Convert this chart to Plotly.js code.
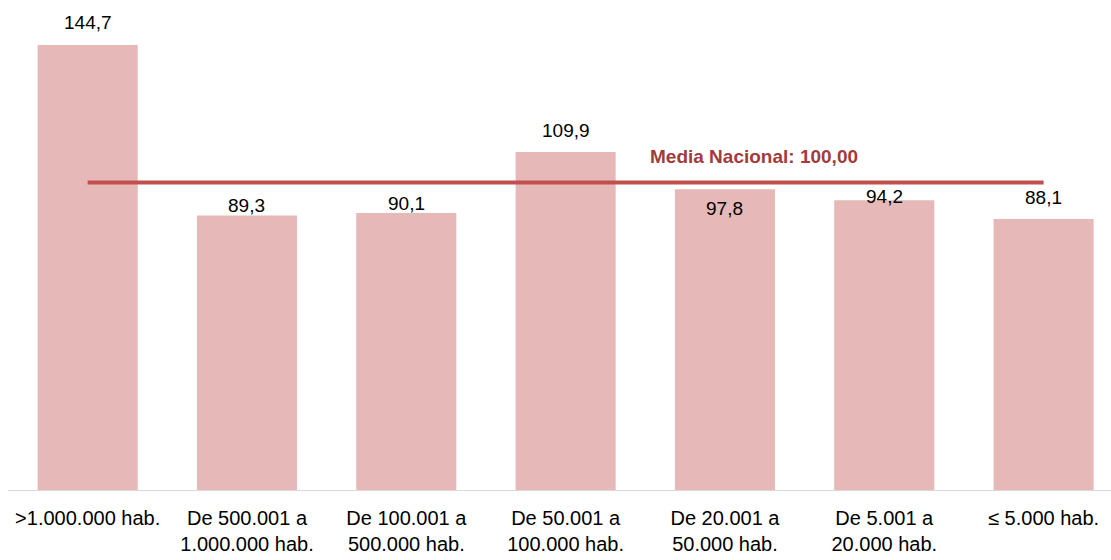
<!DOCTYPE html>
<html>
<head>
<meta charset="utf-8">
<script src="https://cdn.plot.ly/plotly-3.0.1.min.js"></script>
<style>html,body{margin:0;padding:0;background:#fff;}#chart{width:1111px;height:560px;}</style>
</head>
<body>
<div id="chart"></div>
<script>
const categories = [">1.000.000 hab.", "De 500.001 a<br>1.000.000 hab.", "De 100.001 a<br>500.000 hab.", "De 50.001 a<br>100.000 hab.", "De 20.001 a<br>50.000 hab.", "De 5.001 a<br>20.000 hab.", "\u2264 5.000 hab."];
const values = [144.7, 89.3, 90.1, 109.9, 97.8, 94.2, 88.1];
const nationalMean = 100.00;
const meanLabel = "Media Nacional: 100,00";

// label vertical offsets (px, styling only)
const labelShift = [23, 10, 9, 22, -19, 4, 22];

const FONT = '"Liberation Sans Narrow", "Arial Narrow", "Liberation Sans", Arial, sans-serif';

const fmt = v => v.toFixed(1).replace('.', ',');

const bars = {
  type: 'bar', x: categories, y: values,
  marker: {color: '#E6B8B7'}, width: 0.628, hoverinfo: 'skip'
};
const meanLine = {
  type: 'scatter', mode: 'lines',
  x: [categories[0], categories[categories.length - 1]],
  y: [nationalMean, nationalMean],
  line: {color: '#C0504D', width: 4}, hoverinfo: 'skip'
};

const annotations = values.map((v, i) => ({
  x: categories[i], y: v, xref: 'x', yref: 'y', text: fmt(v),
  showarrow: false, yanchor: 'middle', yshift: labelShift[i],
  font: {family: FONT, size: 19, color: '#000'}
}));
annotations.push({
  x: 4.18, y: nationalMean, xref: 'x', yref: 'y', text: '<b>' + meanLabel + '</b>',
  showarrow: false, yanchor: 'middle', yshift: 26,
  font: {family: FONT, size: 19, color: '#A33B3B'}
});

const layout = {
  width: 1111, height: 560,
  margin: {l: 8, r: 0, t: 10, b: 70},
  showlegend: false,
  paper_bgcolor: '#fff', plot_bgcolor: '#fff',
  font: {family: FONT, size: 20, color: '#000'},
  xaxis: {
    type: 'category', range: [-0.5, 6.423],
    showline: true, linecolor: '#D9D9D9', linewidth: 1,
    showgrid: false, zeroline: false, ticks: '', ticklabelstandoff: 10,
    tickfont: {family: FONT, size: 20, color: '#000'}
  },
  yaxis: {
    range: [0, 156.1], visible: false, showgrid: false, zeroline: false
  },
  annotations: annotations
};

Plotly.newPlot('chart', [bars, meanLine], layout, {displayModeBar: false, staticPlot: true});
</script>
</body>
</html>
